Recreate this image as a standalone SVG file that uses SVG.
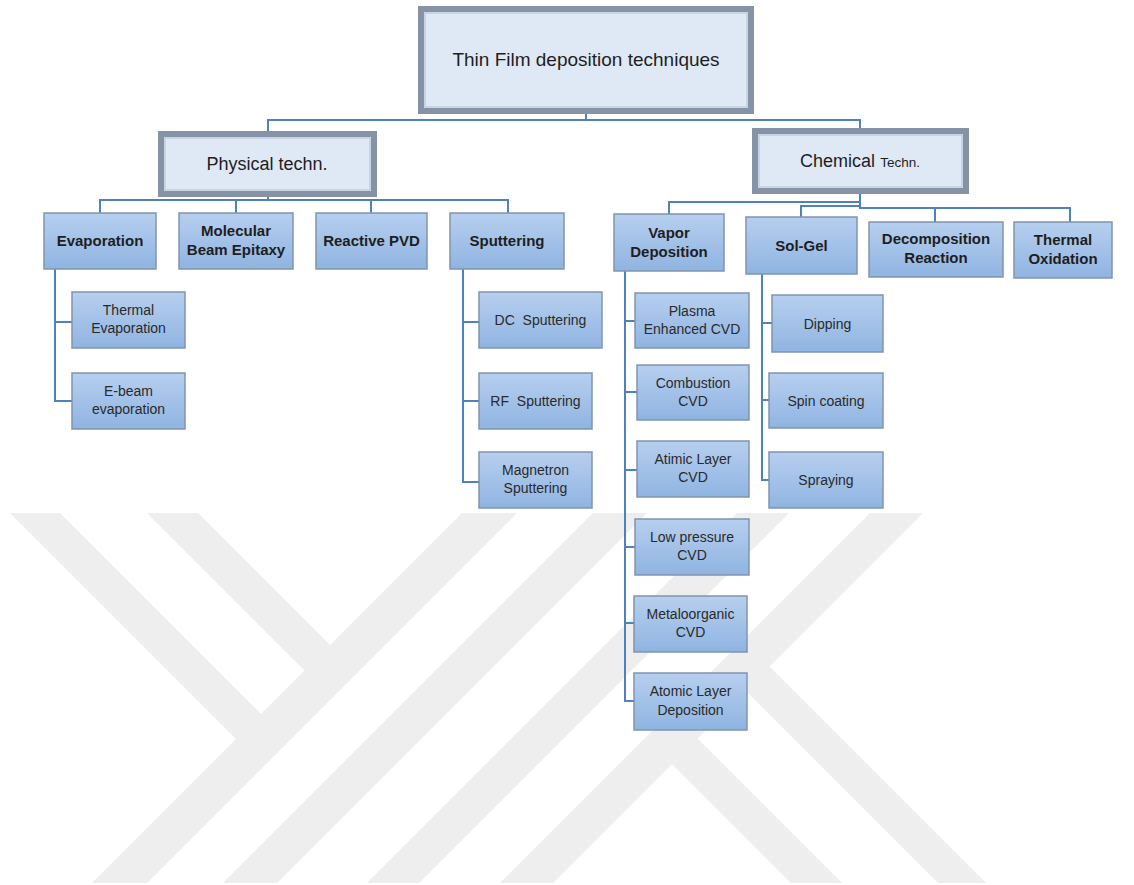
<svg xmlns="http://www.w3.org/2000/svg" width="1134" height="885" viewBox="0 0 1134 885">
<defs>
<linearGradient id="boxg" x1="0" y1="0" x2="0" y2="1">
<stop offset="0" stop-color="#b7cfef"/>
<stop offset="1" stop-color="#8fb4e1"/>
</linearGradient>
<clipPath id="wmclip"><rect x="0" y="513" width="1134" height="370"/></clipPath>
<style>
.bg{fill:#ffffff}
.wm{fill:#eeeeee}
.top{fill:#dfe9f5;stroke:#8693a6;stroke-width:6}
.topin{fill:none;stroke:#b4c0cf;stroke-width:1}
.box{fill:url(#boxg);stroke:#8094ad;stroke-width:1.5}
.conn{fill:none;stroke:#4f81bd;stroke-width:2}
text{font-family:"Liberation Sans",Arial,sans-serif;text-anchor:middle;fill:#1e1e1e}
.t0{font-size:19px}
.t1{font-size:18px}
.b{font-size:15px;font-weight:bold}
.r{font-size:14px;fill:#2a2a2a}
</style>
</defs>
<rect class="bg" x="0" y="0" width="1134" height="885"/>
<g id="watermark" clip-path="url(#wmclip)">
<polygon class="wm" points="462,513 517,513 147,883 92,883"/>
<polygon class="wm" points="593,513 647,513 277,883 223,883"/>
<polygon class="wm" points="737,513 789,513 419,883 367,883"/>
<polygon class="wm" points="870,513 923,513 553,883 500,883"/>
<polygon class="wm" points="10,513 60,513 275,728 250,753"/>
<polygon class="wm" points="147,513 198,513 344,659 318.5,684.5"/>
<polygon class="wm" points="659,751 684.5,725.5 842,883 791,883"/>
<polygon class="wm" points="732.5,677.5 756.5,653.5 986,883 938,883"/>
</g>
<g id="connectors">
<path class="conn" d="M586,112 V120 H268 V134"/>
<path class="conn" d="M586,120 H860 V131"/>
<path class="conn" d="M268,195 V200 H100 V213"/>
<path class="conn" d="M268,200 H508 V213"/>
<path class="conn" d="M236,200 V213"/>
<path class="conn" d="M371,200 V213"/>
<path class="conn" d="M55,269 V401 H72"/>
<path class="conn" d="M55,322 H72"/>
<path class="conn" d="M463,269 V482 H479"/>
<path class="conn" d="M463,322 H479"/>
<path class="conn" d="M463,401 H479"/>
<path class="conn" d="M860,192 V202 H669 V214"/>
<path class="conn" d="M860,202 V206 H801 V217"/>
<path class="conn" d="M860,206 V208 H1070 V222"/>
<path class="conn" d="M935,208 V222"/>
<path class="conn" d="M625,271 V701 H634"/>
<path class="conn" d="M625,321 H635"/>
<path class="conn" d="M625,392 H637"/>
<path class="conn" d="M625,470 H637"/>
<path class="conn" d="M625,547 H635"/>
<path class="conn" d="M625,623 H634"/>
<path class="conn" d="M762,274 V480 H769"/>
<path class="conn" d="M762,323 H772"/>
<path class="conn" d="M762,400 H769"/>
</g>
<g id="root">
<rect class="top" x="421" y="9" width="330" height="102"/>
<rect class="topin" x="425" y="13" width="322" height="94"/>
<text class="t0" x="586" y="66">Thin Film deposition techniques</text>
</g>
<g id="physical">
<rect class="top" x="161" y="134" width="213" height="60"/>
<rect class="topin" x="165" y="138" width="205" height="52"/>
<text class="t1" x="267" y="170">Physical techn.</text>
</g>
<g id="chemical">
<rect class="top" x="755" y="131" width="211" height="60"/>
<rect class="topin" x="759" y="135" width="203" height="52"/>
<text class="t1" x="860" y="167">Chemical <tspan style="font-size:13.5px">Techn.</tspan></text>
</g>
<g id="evaporation">
<rect class="box" x="44" y="213" width="112" height="56"/>
<text class="b" x="100" y="246">Evaporation</text>
</g>
<g id="mbe">
<rect class="box" x="179" y="213" width="114" height="56"/>
<text class="b" x="236" y="236">Molecular</text>
<text class="b" x="236" y="255">Beam Epitaxy</text>
</g>
<g id="reactive-pvd">
<rect class="box" x="316" y="213" width="111" height="56"/>
<text class="b" x="371.5" y="246">Reactive PVD</text>
</g>
<g id="sputtering">
<rect class="box" x="450" y="213" width="114" height="56"/>
<text class="b" x="507" y="246">Sputtering</text>
</g>
<g id="thermal-evaporation">
<rect class="box" x="72" y="292" width="113" height="56"/>
<text class="r" x="128.5" y="315">Thermal</text>
<text class="r" x="128.5" y="333">Evaporation</text>
</g>
<g id="ebeam-evaporation">
<rect class="box" x="72" y="373" width="113" height="56"/>
<text class="r" x="128.5" y="396">E-beam</text>
<text class="r" x="128.5" y="414">evaporation</text>
</g>
<g id="dc-sputtering">
<rect class="box" x="479" y="292" width="123" height="56"/>
<text class="r" x="540.5" y="325" xml:space="preserve">DC  Sputtering</text>
</g>
<g id="rf-sputtering">
<rect class="box" x="479" y="373" width="113" height="56"/>
<text class="r" x="535.5" y="406" xml:space="preserve">RF  Sputtering</text>
</g>
<g id="magnetron-sputtering">
<rect class="box" x="479" y="452" width="113" height="56"/>
<text class="r" x="535.5" y="475">Magnetron</text>
<text class="r" x="535.5" y="493">Sputtering</text>
</g>
<g id="vapor-deposition">
<rect class="box" x="614" y="214" width="110" height="57"/>
<text class="b" x="669" y="238">Vapor</text>
<text class="b" x="669" y="257">Deposition</text>
</g>
<g id="sol-gel">
<rect class="box" x="746" y="217" width="111" height="57"/>
<text class="b" x="801.5" y="251">Sol-Gel</text>
</g>
<g id="decomposition-reaction">
<rect class="box" x="869" y="222" width="134" height="55"/>
<text class="b" x="936" y="244">Decomposition</text>
<text class="b" x="936" y="263">Reaction</text>
</g>
<g id="thermal-oxidation">
<rect class="box" x="1014" y="222" width="98" height="56"/>
<text class="b" x="1063" y="245">Thermal</text>
<text class="b" x="1063" y="264">Oxidation</text>
</g>
<g id="plasma-enhanced-cvd">
<rect class="box" x="635" y="293" width="114" height="55"/>
<text class="r" x="692" y="316">Plasma</text>
<text class="r" x="692" y="334">Enhanced CVD</text>
</g>
<g id="combustion-cvd">
<rect class="box" x="637" y="365" width="112" height="55"/>
<text class="r" x="693" y="388">Combustion</text>
<text class="r" x="693" y="406">CVD</text>
</g>
<g id="atimic-layer-cvd">
<rect class="box" x="637" y="441" width="112" height="56"/>
<text class="r" x="693" y="464">Atimic Layer</text>
<text class="r" x="693" y="482">CVD</text>
</g>
<g id="low-pressure-cvd">
<rect class="box" x="635" y="519" width="114" height="56"/>
<text class="r" x="692" y="542">Low pressure</text>
<text class="r" x="692" y="560">CVD</text>
</g>
<g id="metaloorganic-cvd">
<rect class="box" x="634" y="596" width="113" height="56"/>
<text class="r" x="690.5" y="619">Metaloorganic</text>
<text class="r" x="690.5" y="637">CVD</text>
</g>
<g id="atomic-layer-deposition">
<rect class="box" x="634" y="673" width="113" height="57"/>
<text class="r" x="690.5" y="696">Atomic Layer</text>
<text class="r" x="690.5" y="715">Deposition</text>
</g>
<g id="dipping">
<rect class="box" x="772" y="295" width="111" height="57"/>
<text class="r" x="827.5" y="328.5">Dipping</text>
</g>
<g id="spin-coating">
<rect class="box" x="769" y="373" width="114" height="55"/>
<text class="r" x="826" y="405.5">Spin coating</text>
</g>
<g id="spraying">
<rect class="box" x="769" y="452" width="114" height="56"/>
<text class="r" x="826" y="485">Spraying</text>
</g>
</svg>
